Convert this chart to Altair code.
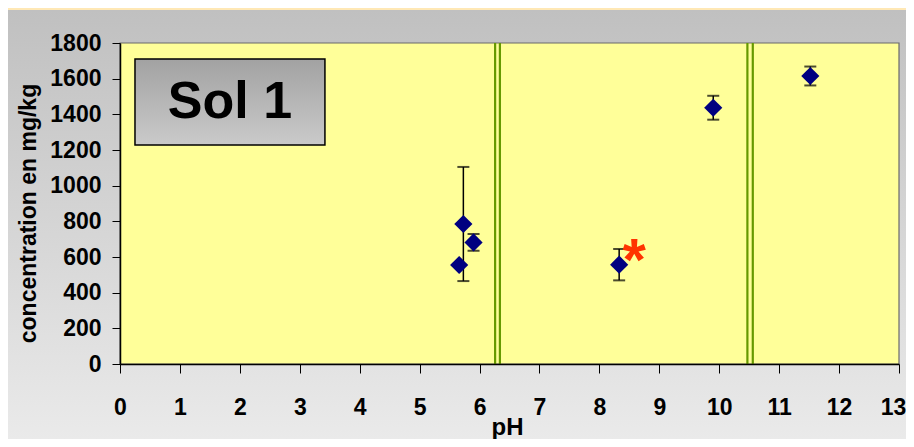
import altair as alt
import pandas as pd

# ---- data ----
ph = [5.66, 5.73, 5.90, 8.33, 9.90, 11.52]
conc = [555, 785, 682, 557, 1437, 1615]
err = [0, 320, 47, 88, 67, 53]

# green double boundary lines (pH)
boundary_ph = [6.26, 6.34, 10.47, 10.56]

# asterisk annotation
star_ph = [8.58]
star_conc = [639]

# "Sol 1" label box (data coordinates)
box_x = [0.25, 3.42]
box_y = [1228, 1710]
box_label = ["Sol 1"]

x_ticks = list(range(0, 14))
y_ticks = list(range(0, 1801, 200))

FONT = "Liberation Sans"
W, H = 779, 321
PAD = {"left": 112, "top": 35, "right": 7, "bottom": 75}

df = pd.DataFrame({"ph": ph, "conc": conc, "err": err})
df["lo"] = df["conc"] - df["err"]
df["hi"] = df["conc"] + df["err"]
df_err = df[df["err"] > 0]

xs = alt.Scale(domain=[0, 13], nice=False, zero=False)
ys = alt.Scale(domain=[0, 1800], nice=False)

xaxis = alt.Axis(
    values=x_ticks, format="d", grid=False, zindex=1, labelOverlap=False,
    domainColor="black", domainWidth=1.5, tickColor="black", tickSize=9, tickWidth=1,
    labelFont=FONT, labelFontSize=23, labelFontWeight="bold", labelColor="black",
    labelPadding=23, labelFlush=False,
    labelOffset={"condition": {"test": "datum.value === 13", "value": -6}, "value": 0},
    title="pH", titleFont=FONT, titleFontSize=24, titleFontWeight="bold", titleColor="black",
    titleX=387, titleY=70, titleAlign="center", titleBaseline="alphabetic",
)
yaxis = alt.Axis(
    values=y_ticks, format="d", grid=False, zindex=1, labelOverlap=False,
    domainColor="black", domainWidth=1.5, tickColor="black", tickSize=8, tickWidth=1,
    labelFont=FONT, labelFontSize=23, labelFontWeight="bold", labelColor="black",
    labelPadding=11, labelFlush=False,
    title="concentration en mg/kg", titleFont=FONT, titleFontSize=23, titleFontWeight="bold",
    titleColor="black", titleAngle=270, titleX=-92, titleY=170,
    titleAlign="center", titleBaseline="middle",
)


def X(field):
    return alt.X(field, scale=xs, axis=xaxis)


def Y(field):
    return alt.Y(field, scale=ys, axis=yaxis)


one = alt.Data(values=[{}])

bg = alt.Chart(one).mark_rect(
    fill=alt.LinearGradient(
        gradient="linear", x1=0, x2=0, y1=0, y2=1,
        stops=[alt.GradientStop(color="#C0C0C0", offset=0),
               alt.GradientStop(color="#EAEAEA", offset=1)],
    )
).encode(x=alt.value(-PAD["left"]), x2=alt.value(W + PAD["right"]),
         y=alt.value(-33), y2=alt.value(H + PAD["bottom"]))

plot_bg = alt.Chart(one).mark_rect(fill="#FFFF99", stroke="#6A6A6A", strokeWidth=1.2).encode(
    x=alt.value(0), x2=alt.value(W), y=alt.value(0), y2=alt.value(H))

bdf = pd.DataFrame({"ph": boundary_ph})
bounds = alt.Chart(bdf).mark_rule(color="#669900", strokeWidth=2.2).encode(
    x=X("ph:Q"), y=alt.value(0), y2=alt.value(H))

boxdf = pd.DataFrame({"x": [box_x[0]], "x2": [box_x[1]], "y": [box_y[0]], "y2": [box_y[1]],
                      "cx": [(box_x[0] + box_x[1]) / 2], "cy": [(box_y[0] + box_y[1]) / 2],
                      "label": box_label})
box = alt.Chart(boxdf).mark_rect(
    fill=alt.LinearGradient(
        gradient="linear", x1=0, x2=0, y1=0, y2=1,
        stops=[alt.GradientStop(color="#A2A2A2", offset=0),
               alt.GradientStop(color="#CACACA", offset=1)],
    ),
    stroke="black", strokeWidth=1.5,
).encode(x=X("x:Q"), x2="x2:Q", y=Y("y:Q"), y2="y2:Q")
box_text = alt.Chart(boxdf).mark_text(
    font=FONT, fontSize=52, fontWeight="bold", color="black", align="center", baseline="middle"
).encode(x=X("cx:Q"), y=Y("cy:Q"), text="label:N")

ebar = alt.Chart(df_err).mark_rule(color="black", strokeWidth=1.5).encode(
    x=X("ph:Q"), y=Y("lo:Q"), y2="hi:Q")
cap_lo = alt.Chart(df_err).mark_tick(color="black", orient="horizontal", size=12, thickness=2).encode(
    x=X("ph:Q"), y=Y("lo:Q"))
cap_hi = alt.Chart(df_err).mark_tick(color="black", orient="horizontal", size=12, thickness=2).encode(
    x=X("ph:Q"), y=Y("hi:Q"))

pts = alt.Chart(df).mark_point(shape="diamond", filled=True, color="#000080", opacity=1, size=330).encode(
    x=X("ph:Q"), y=Y("conc:Q"))

sdf = pd.DataFrame({"ph": star_ph, "conc": star_conc, "t": ["*"]})
star = alt.Chart(sdf).mark_text(
    font=FONT, fontSize=60, fontWeight="bold", color="#FF3300", align="center", baseline="middle", dy=12
).encode(x=X("ph:Q"), y=Y("conc:Q"), text="t:N")

chart = alt.layer(
    bg, plot_bg, bounds, box, box_text, ebar, cap_lo, cap_hi, pts, star
).properties(
    width=W, height=H,
    autosize=alt.AutoSizeParams(type="none"),
    padding=PAD,
    background="#FFE8B5",
).configure_view(stroke=None)

chart.save("out.html", embed_options={"renderer": "svg", "actions": False})
